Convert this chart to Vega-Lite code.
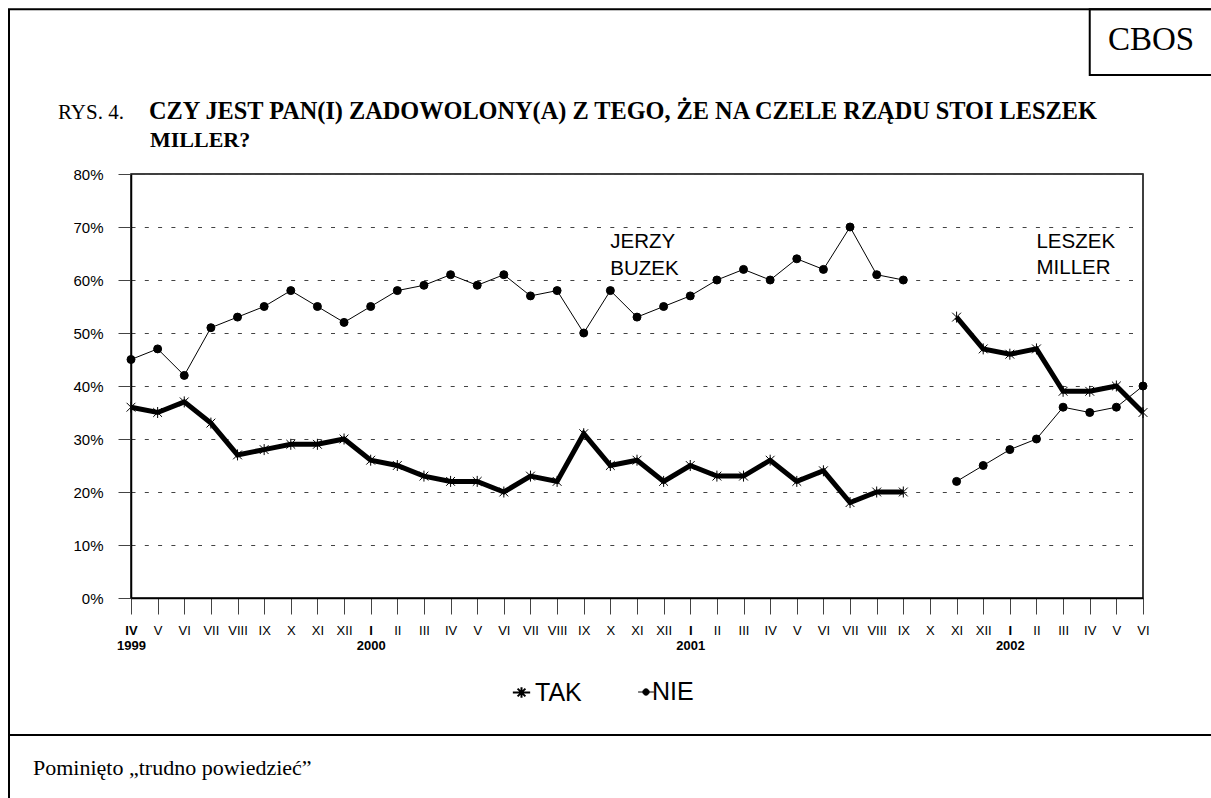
{
  "$schema": "https://vega.github.io/schema/vega-lite/v6.json",
  "autosize": {"type": "none"},
  "padding": {"left": 131, "top": 174, "right": 68, "bottom": 200},
  "width": 1012,
  "height": 424,
  "background": "white",
  "config": {
    "view": {"stroke": "black", "strokeWidth": 1.5},
    "font": "Liberation Sans"
  },
  "datasets": {
    "survey": [
      {"m": "IV 1999", "gov": "Buzek", "TAK": 36, "NIE": 45},
      {"m": "V 1999", "gov": "Buzek", "TAK": 35, "NIE": 47},
      {"m": "VI 1999", "gov": "Buzek", "TAK": 37, "NIE": 42},
      {"m": "VII 1999", "gov": "Buzek", "TAK": 33, "NIE": 51},
      {"m": "VIII 1999", "gov": "Buzek", "TAK": 27, "NIE": 53},
      {"m": "IX 1999", "gov": "Buzek", "TAK": 28, "NIE": 55},
      {"m": "X 1999", "gov": "Buzek", "TAK": 29, "NIE": 58},
      {"m": "XI 1999", "gov": "Buzek", "TAK": 29, "NIE": 55},
      {"m": "XII 1999", "gov": "Buzek", "TAK": 30, "NIE": 52},
      {"m": "I 2000", "gov": "Buzek", "TAK": 26, "NIE": 55},
      {"m": "II 2000", "gov": "Buzek", "TAK": 25, "NIE": 58},
      {"m": "III 2000", "gov": "Buzek", "TAK": 23, "NIE": 59},
      {"m": "IV 2000", "gov": "Buzek", "TAK": 22, "NIE": 61},
      {"m": "V 2000", "gov": "Buzek", "TAK": 22, "NIE": 59},
      {"m": "VI 2000", "gov": "Buzek", "TAK": 20, "NIE": 61},
      {"m": "VII 2000", "gov": "Buzek", "TAK": 23, "NIE": 57},
      {"m": "VIII 2000", "gov": "Buzek", "TAK": 22, "NIE": 58},
      {"m": "IX 2000", "gov": "Buzek", "TAK": 31, "NIE": 50},
      {"m": "X 2000", "gov": "Buzek", "TAK": 25, "NIE": 58},
      {"m": "XI 2000", "gov": "Buzek", "TAK": 26, "NIE": 53},
      {"m": "XII 2000", "gov": "Buzek", "TAK": 22, "NIE": 55},
      {"m": "I 2001", "gov": "Buzek", "TAK": 25, "NIE": 57},
      {"m": "II 2001", "gov": "Buzek", "TAK": 23, "NIE": 60},
      {"m": "III 2001", "gov": "Buzek", "TAK": 23, "NIE": 62},
      {"m": "IV 2001", "gov": "Buzek", "TAK": 26, "NIE": 60},
      {"m": "V 2001", "gov": "Buzek", "TAK": 22, "NIE": 64},
      {"m": "VI 2001", "gov": "Buzek", "TAK": 24, "NIE": 62},
      {"m": "VII 2001", "gov": "Buzek", "TAK": 18, "NIE": 70},
      {"m": "VIII 2001", "gov": "Buzek", "TAK": 20, "NIE": 61},
      {"m": "IX 2001", "gov": "Buzek", "TAK": 20, "NIE": 60},
      {"m": "XI 2001", "gov": "Miller", "TAK": 53, "NIE": 22},
      {"m": "XII 2001", "gov": "Miller", "TAK": 47, "NIE": 25},
      {"m": "I 2002", "gov": "Miller", "TAK": 46, "NIE": 28},
      {"m": "II 2002", "gov": "Miller", "TAK": 47, "NIE": 30},
      {"m": "III 2002", "gov": "Miller", "TAK": 39, "NIE": 36},
      {"m": "IV 2002", "gov": "Miller", "TAK": 39, "NIE": 35},
      {"m": "V 2002", "gov": "Miller", "TAK": 40, "NIE": 36},
      {"m": "VI 2002", "gov": "Miller", "TAK": 35, "NIE": 40}
    ],
    "one": [{}]
  },
  "layer": [
    {
      "data": {"name": "survey"},
      "mark": {"type": "line", "color": "black"},
      "encoding": {
        "x": {
          "field": "m", "type": "ordinal",
          "scale": {"type": "point", "padding": 0, "domain": ["IV 1999","V 1999","VI 1999","VII 1999","VIII 1999","IX 1999","X 1999","XI 1999","XII 1999","I 2000","II 2000","III 2000","IV 2000","V 2000","VI 2000","VII 2000","VIII 2000","IX 2000","X 2000","XI 2000","XII 2000","I 2001","II 2001","III 2001","IV 2001","V 2001","VI 2001","VII 2001","VIII 2001","IX 2001","X 2001","XI 2001","XII 2001","I 2002","II 2002","III 2002","IV 2002","V 2002","VI 2002"]},
          "axis": {
            "title": null,
            "labelAngle": 0,
            "labelExpr": "(split(datum.value, ' ')[0] == 'I' || datum.value == 'IV 1999') ? split(datum.value, ' ') : split(datum.value, ' ')[0]",
            "labelFont": "Liberation Sans",
            "labelFontSize": 13,
            "labelColor": "black",
            "labelFontWeight": {"condition": {"test": "split(datum.value, ' ')[0] == 'I' || datum.value == 'IV 1999'", "value": "bold"}, "value": "normal"},
            "labelBaseline": "top",
            "labelLineHeight": 15,
            "labelPadding": 10,
            "labelOverlap": false,
            "tickSize": 16,
            "tickColor": "#444",
            "tickWidth": 1,
            "domainColor": "black",
            "domainWidth": 1.5,
            "grid": false
          }
        },
        "y": {
          "field": "NIE", "type": "quantitative",
          "scale": {"domain": [0, 80], "nice": false},
          "axis": {
            "title": null,
            "values": [0, 10, 20, 30, 40, 50, 60, 70, 80],
            "labelExpr": "datum.value + '%'",
            "labelFont": "Liberation Sans",
            "labelFontSize": 15,
            "labelColor": "black",
            "labelPadding": 15,
            "tickSize": 13,
            "tickColor": "#444",
            "domainColor": "black",
            "domainWidth": 1.5,
            "grid": true,
            "gridDash": [4, 9.3],
            "gridColor": "#444",
            "gridWidth": 1
          }
        },
        "detail": {"field": "gov", "type": "nominal"},
        "strokeWidth": {
          "datum": "NIE",
          "scale": {"domain": ["NIE"], "range": [1.5]},
          "legend": {
            "title": null,
            "orient": "none",
            "legendX": 515,
            "legendY": 518,
            "labelFont": "Liberation Sans",
            "labelFontSize": 25,
            "labelColor": "black",
            "labelOffset": 7,
            "symbolType": "M-1,0L1,0M0.4,0A0.4,0.4 0 1 1 -0.4,0A0.4,0.4 0 1 1 0.4,0Z",
            "symbolSize": 250,
            "encoding": {
              "symbols": {
                "shape": {"value": "M-1,0L1,0M0.4,0A0.4,0.4 0 1 1 -0.4,0A0.4,0.4 0 1 1 0.4,0Z"},
                "size": {"value": 250},
                "fill": {"value": "black"},
                "stroke": {"value": "black"},
                "strokeWidth": {"value": 1.5},
                "opacity": {"value": 1}
              },
              "labels": {
                "dx": {"value": 6}
              }
            }
          }
        }
      }
    },
    {
      "data": {"name": "survey"},
      "mark": {"type": "line", "strokeWidth": 5, "strokeJoin": "miter"},
      "encoding": {
        "x": {"field": "m", "type": "ordinal"},
        "y": {"field": "TAK", "type": "quantitative"},
        "detail": {"field": "gov", "type": "nominal"},
        "stroke": {
          "datum": "TAK",
          "scale": {"domain": ["TAK"], "range": ["black"]},
          "legend": {
            "title": null,
            "orient": "none",
            "legendX": 378,
            "legendY": 506,
            "labelFont": "Liberation Sans",
            "labelFontSize": 25,
            "labelColor": "black",
            "labelOffset": 1,
            "symbolType": "M-1,0L1,0M-0.45,-0.45L0.45,0.45M-0.45,0.45L0.45,-0.45M0,-0.6L0,0.6",
            "symbolSize": 300,
            "encoding": {
              "symbols": {
                "shape": {"value": "M-1,0L1,0M-0.45,-0.45L0.45,0.45M-0.45,0.45L0.45,-0.45M0,-0.6L0,0.6"},
                "size": {"value": 300},
                "stroke": {"value": "black"},
                "strokeWidth": {"value": 2},
                "opacity": {"value": 1}
              }
            }
          }
        }
      }
    },
    {
      "data": {"name": "survey"},
      "mark": {"type": "point", "shape": "circle", "filled": true, "fill": "black", "stroke": "black", "strokeWidth": 1, "opacity": 1, "size": 64},
      "encoding": {
        "x": {"field": "m", "type": "ordinal"},
        "y": {"field": "NIE", "type": "quantitative"}
      }
    },
    {
      "data": {"name": "survey"},
      "mark": {"type": "point", "shape": "M-0.8,-0.8L0.8,0.8M-0.8,0.8L0.8,-0.8M0,-1L0,1", "filled": false, "stroke": "black", "strokeWidth": 1, "opacity": 1, "size": 121},
      "encoding": {
        "x": {"field": "m", "type": "ordinal"},
        "y": {"field": "TAK", "type": "quantitative"}
      }
    },
    {
      "data": {"name": "one"},
      "mark": {"type": "text", "align": "left", "baseline": "top", "font": "Liberation Sans", "fontSize": 20.5, "lineBreak": "\n", "lineHeight": 27, "color": "black", "text": "JERZY\nBUZEK"},
      "encoding": {"x": {"datum": "X 2000", "type": "ordinal"}, "y": {"datum": 69.1, "type": "quantitative"}}
    },
    {
      "data": {"name": "one"},
      "mark": {"type": "text", "align": "left", "baseline": "top", "font": "Liberation Sans", "fontSize": 20.5, "lineBreak": "\n", "lineHeight": 26, "color": "black", "text": "LESZEK\nMILLER"},
      "encoding": {"x": {"datum": "II 2002", "type": "ordinal"}, "y": {"datum": 69.1, "type": "quantitative"}}
    },
    {
      "data": {"name": "one"},
      "mark": {"type": "text", "align": "left", "baseline": "alphabetic", "font": "Liberation Serif", "fontSize": 21, "color": "black", "dx": -73, "text": "RYS. 4."},
      "encoding": {"x": {"datum": "IV 1999", "type": "ordinal"}, "y": {"datum": 90.4, "type": "quantitative"}}
    },
    {
      "data": {"name": "one"},
      "mark": {"type": "text", "align": "left", "baseline": "alphabetic", "font": "Liberation Serif", "fontSize": 24.3, "fontWeight": "bold", "color": "black", "dx": 18, "text": "CZY JEST PAN(I) ZADOWOLONY(A) Z TEGO, ŻE NA CZELE RZĄDU STOI LESZEK"},
      "encoding": {"x": {"datum": "IV 1999", "type": "ordinal"}, "y": {"datum": 90.4, "type": "quantitative"}}
    },
    {
      "data": {"name": "one"},
      "mark": {"type": "text", "align": "left", "baseline": "alphabetic", "font": "Liberation Serif", "fontSize": 22, "fontWeight": "bold", "color": "black", "dx": 19, "text": "MILLER?"},
      "encoding": {"x": {"datum": "IV 1999", "type": "ordinal"}, "y": {"datum": 85.1, "type": "quantitative"}}
    },
    {
      "data": {"name": "one"},
      "mark": {"type": "text", "align": "center", "baseline": "alphabetic", "font": "Liberation Serif", "fontSize": 33, "color": "black", "dx": 8, "text": "CBOS"},
      "encoding": {"x": {"datum": "VI 2002", "type": "ordinal"}, "y": {"datum": 103.4, "type": "quantitative"}}
    },
    {
      "data": {"name": "one"},
      "mark": {"type": "text", "align": "left", "baseline": "alphabetic", "font": "Liberation Serif", "fontSize": 22, "color": "black", "dx": -98, "text": "Pominięto „trudno powiedzieć”"},
      "encoding": {"x": {"datum": "IV 1999", "type": "ordinal"}, "y": {"datum": -33.4, "type": "quantitative"}}
    },
    {
      "data": {"name": "one"},
      "mark": {"type": "rect", "fill": "transparent", "stroke": "black", "strokeWidth": 2, "xOffset": -122, "x2Offset": 75},
      "encoding": {"x": {"datum": "IV 1999", "type": "ordinal"}, "x2": {"datum": "VI 2002"}, "y": {"datum": 111.1, "type": "quantitative"}, "y2": {"datum": -25.85}}
    },
    {
      "data": {"name": "one"},
      "mark": {"type": "rect", "fill": "transparent", "stroke": "black", "strokeWidth": 2, "xOffset": -122, "x2Offset": 75},
      "encoding": {"x": {"datum": "IV 1999", "type": "ordinal"}, "x2": {"datum": "VI 2002"}, "y": {"datum": -25.85, "type": "quantitative"}, "y2": {"datum": -60}}
    },
    {
      "data": {"name": "one"},
      "mark": {"type": "rect", "fill": "transparent", "stroke": "black", "strokeWidth": 2, "x2Offset": 75},
      "encoding": {"x": {"datum": "IV 2002", "type": "ordinal"}, "x2": {"datum": "VI 2002"}, "y": {"datum": 111.1, "type": "quantitative"}, "y2": {"datum": 98.7}}
    }
  ]
}
